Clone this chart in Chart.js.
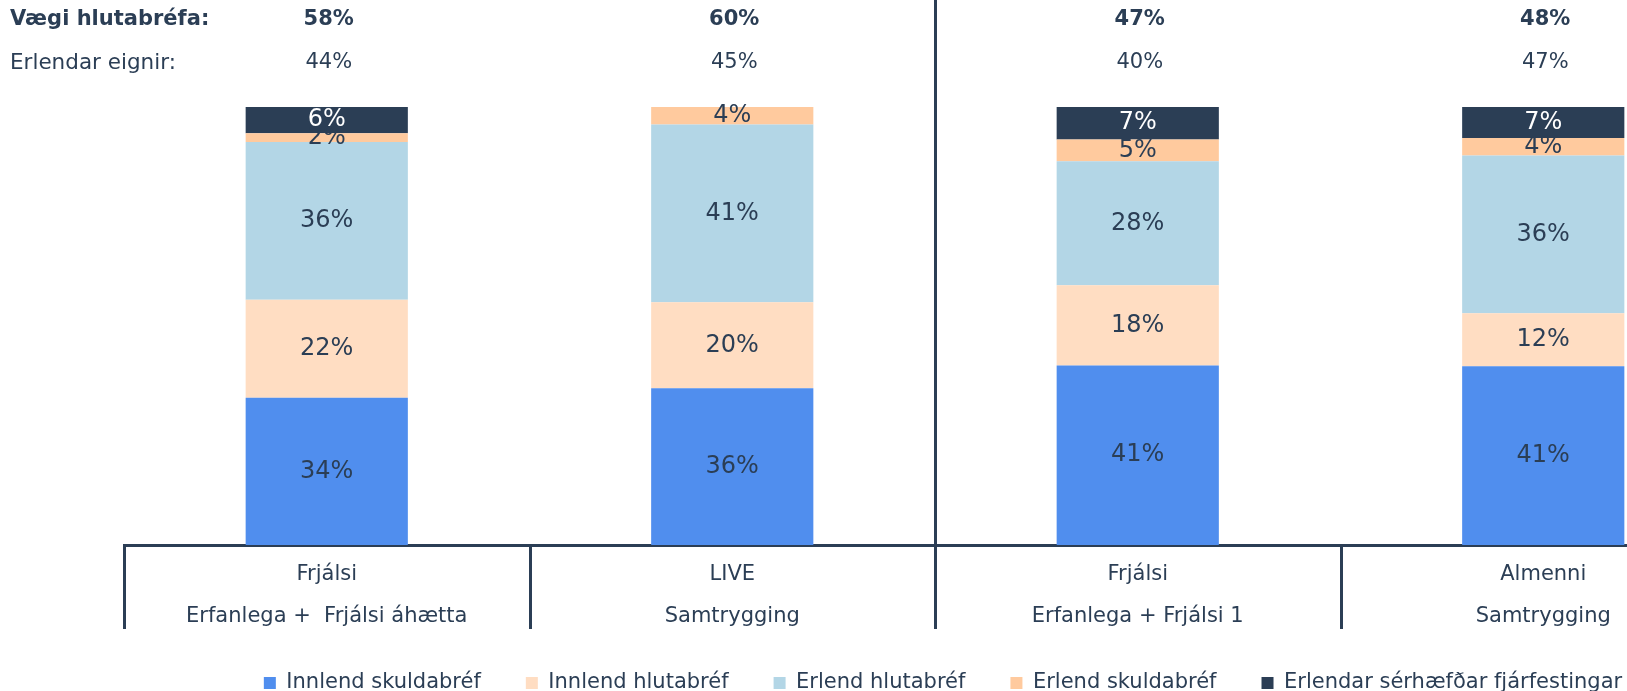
<!DOCTYPE html>
<html>
<head>
<meta charset="utf-8">
<script src="https://cdn.jsdelivr.net/npm/chart.js@4"></script>
<style>
  html, body { margin: 0; padding: 0; overflow: hidden; background: #fff; }
  #wrap { width: 1870px; height: 691px; }
</style>
</head>
<body>
<div id="wrap"><canvas id="assetChart" width="1870" height="691"></canvas></div>
<script>
const fundNames = ["Frjálsi", "LIVE", "Frjálsi", "Almenni"];
const fundTypes = ["Erfanlega +  Frjálsi áhætta", "Samtrygging", "Erfanlega + Frjálsi 1", "Samtrygging"];

const equityWeight = [58, 60, 47, 48];
const foreignAssets = [44, 45, 40, 47];

const domesticBonds = [33.6, 35.8, 41.0, 40.8];
const domesticEquity = [22.4, 19.6, 18.3, 12.1];
const foreignEquity = [36.0, 40.6, 28.3, 36.0];
const foreignBonds = [2.0, 4.0, 5.0, 4.0];
const foreignAlternatives = [6.0, 0, 7.4, 7.1];

const navy = "#2B3E55";

const headerPlugin = {
  id: "headers",
  afterDraw(chart) {
    const { ctx, chartArea } = chart;
    const x = chart.scales.x;
    ctx.save();
    ctx.fillStyle = navy;
    ctx.textBaseline = "middle";

    ctx.textAlign = "left";
    ctx.font = "bold 21px 'DejaVu Sans'";
    ctx.fillText("Vægi hlutabréfa:", 10, 20);
    ctx.font = "21.5px 'DejaVu Sans'";
    ctx.fillText("Erlendar eignir:", 10, 63);

    ctx.textAlign = "center";
    equityWeight.forEach((v, i) => {
      ctx.font = "bold 21px 'DejaVu Sans'";
      ctx.fillText(v + "%", x.getPixelForValue(i) + 2, 20);
      ctx.font = "21px 'DejaVu Sans'";
      ctx.fillText(foreignAssets[i] + "%", x.getPixelForValue(i) + 2, 63);
    });

    // category labels, two lines under the axis
    ctx.font = "21px 'DejaVu Sans'";
    fundNames.forEach((name, i) => {
      ctx.fillText(name, x.getPixelForValue(i), chartArea.bottom + 30);
      ctx.fillText(fundTypes[i], x.getPixelForValue(i), chartArea.bottom + 72);
    });

    // separators between the categories under the axis
    const half = (x.getPixelForValue(1) - x.getPixelForValue(0)) / 2;
    ctx.strokeStyle = navy;
    ctx.lineWidth = 3;
    for (let i = 0; i <= fundNames.length; i++) {
      const bx = Math.round(x.getPixelForValue(i) - half) + 0.5;
      ctx.beginPath();
      ctx.moveTo(bx, i === 2 ? 0 : chartArea.bottom);
      ctx.lineTo(bx, chartArea.bottom + 84);
      ctx.stroke();
    }
    ctx.restore();
  },
};

const valueLabels = {
  id: "valueLabels",
  afterDatasetsDraw(chart) {
    const { ctx } = chart;
    ctx.save();
    ctx.font = "24px 'DejaVu Sans'";
    ctx.textAlign = "center";
    ctx.textBaseline = "middle";
    chart.data.datasets.forEach((ds, di) => {
      const meta = chart.getDatasetMeta(di);
      meta.data.forEach((bar, i) => {
        const v = ds.data[i];
        if (!v) return;
        ctx.fillStyle = ds.backgroundColor === navy ? "#ffffff" : navy;
        ctx.fillText(Math.round(v) + "%", bar.x, (bar.y + bar.base) / 2);
      });
    });
    ctx.restore();
  },
};

Chart.defaults.font.family = "'DejaVu Sans', sans-serif";
Chart.defaults.color = navy;

new Chart(document.getElementById("assetChart").getContext("2d"), {
  type: "bar",
  data: {
    labels: fundNames,
    datasets: [
      { label: "Innlend skuldabréf", data: domesticBonds, backgroundColor: "#508EEE" },
      { label: "Innlend hlutabréf", data: domesticEquity, backgroundColor: "#FFDDC2" },
      { label: "Erlend hlutabréf", data: foreignEquity, backgroundColor: "#B3D6E6" },
      { label: "Erlend skuldabréf", data: foreignBonds, backgroundColor: "#FFCA9E" },
      { label: "Erlendar sérhæfðar fjárfestingar", data: foreignAlternatives, backgroundColor: navy },
    ],
  },
  options: {
    responsive: false,
    animation: false,
    layout: { padding: { left: 124, right: 108, top: 107, bottom: 0 } },
    datasets: { bar: { categoryPercentage: 1, barPercentage: 0.4 } },
    scales: {
      x: {
        stacked: true,
        grid: { display: false },
        border: { display: true, color: navy, width: 3 },
        ticks: { display: false },
        afterFit: (scale) => {
          scale.height = 82.5;
        },
      },
      y: {
        stacked: true,
        position: "right",
        min: 0,
        max: 100,
        grid: { display: false },
        border: { display: false },
        ticks: { display: false },
        // off-canvas spacer so the legend sits where it does in the original
        afterFit: (scale) => {
          scale.width = 16;
        },
      },
    },
    plugins: {
      tooltip: { enabled: false },
      legend: {
        position: "bottom",
        maxHeight: 63.5,
        labels: {
          color: navy,
          font: { size: 21 },
          boxWidth: 12,
          boxHeight: 12,
          padding: 45,
        },
      },
    },
  },
  plugins: [headerPlugin, valueLabels],
});
</script>
</body>
</html>
